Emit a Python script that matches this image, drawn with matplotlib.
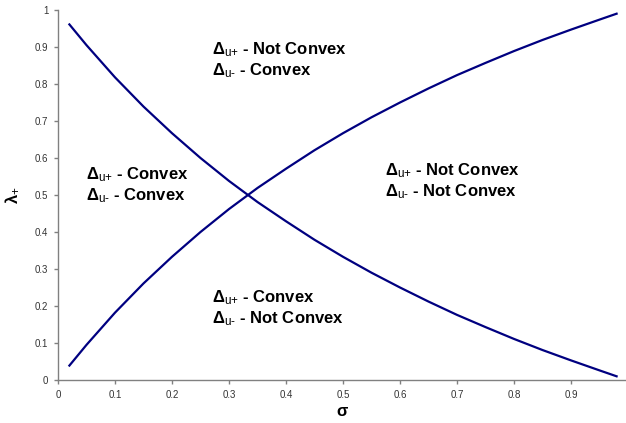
import matplotlib
matplotlib.use("Agg")
import matplotlib.pyplot as plt

plt.rcParams['font.family'] = ['Liberation Sans', 'DejaVu Sans']
plt.rcParams['mathtext.fontset'] = 'custom'
plt.rcParams['mathtext.rm'] = 'Liberation Sans'
plt.rcParams['mathtext.bf'] = 'Liberation Sans:bold'
plt.rcParams['mathtext.it'] = 'Liberation Sans:italic'

# sigma samples and the two branches of lambda+
sigma = [0.02, 0.05, 0.10, 0.15, 0.20, 0.25, 0.30, 0.35, 0.40, 0.45, 0.50,
         0.55, 0.60, 0.65, 0.70, 0.75, 0.80, 0.85, 0.90, 0.95, 0.98]
lam_down = [0.961, 0.905, 0.818, 0.739, 0.667, 0.600, 0.538, 0.481, 0.429,
            0.379, 0.333, 0.290, 0.250, 0.212, 0.176, 0.143, 0.111, 0.081,
            0.053, 0.026, 0.010]
lam_up = [0.039, 0.095, 0.182, 0.261, 0.333, 0.400, 0.462, 0.519, 0.571,
          0.621, 0.667, 0.710, 0.750, 0.788, 0.824, 0.857, 0.889, 0.919,
          0.947, 0.974, 0.990]

x_ticks = [0, 0.1, 0.2, 0.3, 0.4, 0.5, 0.6, 0.7, 0.8, 0.9]
y_ticks = [0, 0.1, 0.2, 0.3, 0.4, 0.5, 0.6, 0.7, 0.8, 0.9, 1]

# region labels: (x, y of first line, plus-state, minus-state)
regions = [
    (0.270, 0.892, "Not Convex", "Convex"),
    (0.049, 0.556, "Convex", "Convex"),
    (0.574, 0.567, "Not Convex", "Not Convex"),
    (0.270, 0.222, "Convex", "Not Convex"),
]

fig = plt.figure(figsize=(6.26, 4.23), dpi=100)
ax = fig.add_axes([58 / 626, 43 / 423, 568 / 626, 370 / 423])

ax.plot(sigma, lam_down, color='#000080', lw=1.6)
ax.plot(sigma, lam_up, color='#000080', lw=1.6)

ax.set_xlim(0, 0.9965)
ax.set_ylim(0, 1)
ax.set_xticks(x_ticks)
ax.set_xticklabels([f"{t:g}" for t in x_ticks])
ax.set_yticks(y_ticks)
ax.set_yticklabels([f"{t:g}" for t in y_ticks])

for side in ('top', 'right'):
    ax.spines[side].set_visible(False)
for side in ('left', 'bottom'):
    ax.spines[side].set_color('#808080')
    ax.spines[side].set_linewidth(1.0)
ax.tick_params(direction='out', length=3, width=1.0, color='#808080',
               labelsize=7, labelcolor='#333333', pad=4)

ax.set_xlabel(r"$\mathbf{\sigma}$", fontsize=12, labelpad=3)
ax.set_ylabel(r"$\mathbf{\lambda}_{\text{+}}$", fontsize=12, labelpad=10)

dy = 0.057
for x, y, plus, minus in regions:
    ax.text(x, y, r"$\mathbf{\Delta}_{\text{u+}}$ - " + plus,
            fontsize=12, fontweight='bold', va='center', ha='left')
    ax.text(x, y - dy, r"$\mathbf{\Delta}_{\text{u-}}$ - " + minus,
            fontsize=12, fontweight='bold', va='center', ha='left')

fig.savefig("out.png", dpi=100)
